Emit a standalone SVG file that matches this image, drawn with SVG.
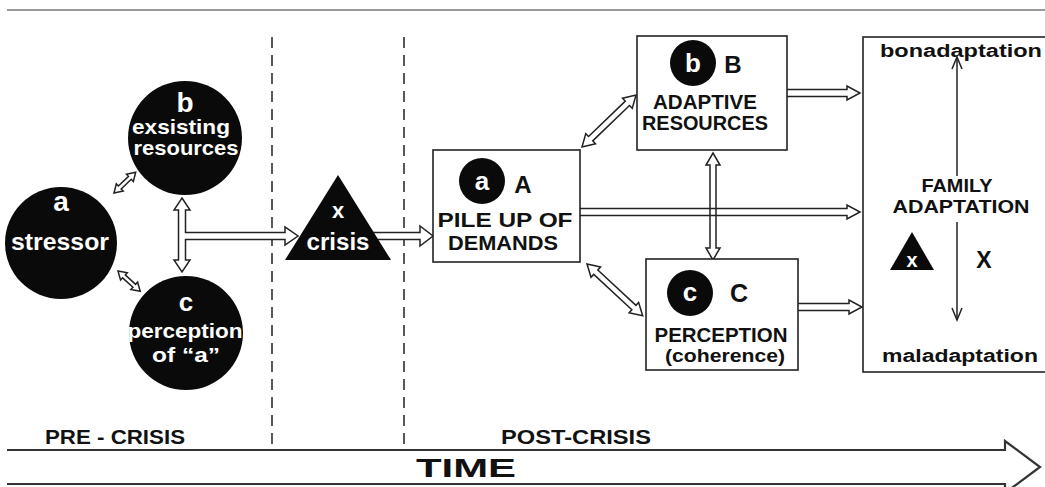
<svg xmlns="http://www.w3.org/2000/svg" width="1045" height="487" viewBox="0 0 1045 487">
<defs>
<style>
text{font-family:"Liberation Sans",Arial,sans-serif;font-weight:bold;text-anchor:middle}
.w{fill:#fff}
.k{fill:#111}
.box{fill:#fff;stroke:#222;stroke-width:1.6}
.blob{fill:#0a0a0a}
.arr{fill:#fff;stroke:#222;stroke-width:1.5;stroke-linejoin:miter}
.arrn{fill:none;stroke:#222;stroke-width:1.5}
.thin{fill:none;stroke:#222;stroke-width:1.5}
.dash{stroke:#222;stroke-width:1.5;stroke-dasharray:11 7;fill:none}
</style>
</defs>
<rect width="1045" height="487" fill="#fff"/>
<line x1="7" y1="10" x2="1045" y2="10" stroke="#999" stroke-width="2"/>
<g id="phases">
<line class="dash" x1="272" y1="37" x2="272" y2="450"/>
<line class="dash" x1="404" y1="37" x2="404" y2="450"/>
</g>
<g id="connectors">
<path class="arr" transform="translate(114,193) rotate(-43.7)" d="M0,0 L8,-5 L8,-2 L22,-2 L22,-5 L30,0 L22,5 L22,2 L8,2 L8,5 Z"/>
<path class="arr" transform="translate(118,271) rotate(42.3)" d="M0,0 L8,-5 L8,-2 L22,-2 L22,-5 L30,0 L22,5 L22,2 L8,2 L8,5 Z"/>
<path class="arr" d="M182,198 L190,210 L185.5,210 V232.5 H285 V227 L298,236 L285,245 V239.5 H185.5 V260 L190,260 L182,272 L174,260 L178.5,260 V210 L174,210 Z"/>
<path class="arr" d="M360,232.5 H420 V226 L433,236 L420,246 V239.5 H360"/>
<path class="arr" transform="translate(582,147) rotate(-43.9)" d="M0,0 L12,-7 L12,-3 L63,-3 L63,-7 L75,0 L63,7 L63,3 L12,3 L12,7 Z"/>
<path class="arr" transform="translate(587,264) rotate(42.9)" d="M0,0 L12,-7 L12,-3 L64,-3 L64,-7 L76,0 L64,7 L64,3 L12,3 L12,7 Z"/>
<path class="arr" d="M787,89.5 H847 V86 L860,93 L847,100 V96.5 H787"/>
<path class="arr" d="M580,208.5 H847 V205 L860,212 L847,219 V215.5 H580"/>
<path class="arr" d="M798,303.5 H849 V300 L862,307 L849,314 V310.5 H798"/>
<path class="arrn" d="M713,153 L720,165 L716,165 L716,248 L720,248 L713,260 L706,248 L710,248 L710,165 L706,165 Z"/>
</g>
<g id="node-a">
<circle class="blob" cx="61" cy="243" r="56"/>
<text class="w" x="61" y="211" font-size="28">a</text>
<text class="w" x="60" y="250" font-size="24" textLength="98" lengthAdjust="spacingAndGlyphs">stressor</text>
</g>
<g id="node-b">
<circle class="blob" cx="185" cy="138" r="57"/>
<text class="w" x="185" y="112" font-size="28">b</text>
<text class="w" x="181" y="134" font-size="21" textLength="98" lengthAdjust="spacingAndGlyphs">exsisting</text>
<text class="w" x="186" y="155" font-size="21" textLength="105" lengthAdjust="spacingAndGlyphs">resources</text>
</g>
<g id="node-c">
<circle class="blob" cx="186" cy="333" r="57"/>
<text class="w" x="186" y="311" font-size="26">c</text>
<text class="w" x="185" y="338" font-size="21" textLength="115" lengthAdjust="spacingAndGlyphs">perception</text>
<text class="w" x="186" y="362" font-size="21" textLength="68" lengthAdjust="spacingAndGlyphs">of “a”</text>
</g>
<g id="node-x">
<polygon class="blob" points="338,175 391,260 285,260"/>
<text class="w" x="338" y="218" font-size="22">x</text>
<text class="w" x="338" y="250" font-size="23" textLength="63" lengthAdjust="spacingAndGlyphs">crisis</text>
</g>
<g id="node-A">
<rect class="box" x="433" y="150" width="147" height="112"/>
<circle class="blob" cx="482" cy="181" r="23"/>
<text class="w" x="482" y="190" font-size="26">a</text>
<text class="k" x="523" y="193" font-size="24">A</text>
<text class="k" x="505" y="227" font-size="21" textLength="135" lengthAdjust="spacingAndGlyphs">PILE UP OF</text>
<text class="k" x="503" y="250" font-size="21" textLength="110" lengthAdjust="spacingAndGlyphs">DEMANDS</text>
</g>
<g id="node-B">
<rect class="box" x="637" y="36" width="150" height="114"/>
<circle class="blob" cx="693" cy="63" r="23"/>
<text class="w" x="693" y="72" font-size="26">b</text>
<text class="k" x="733" y="73" font-size="24">B</text>
<text class="k" x="705" y="109" font-size="20" textLength="104" lengthAdjust="spacingAndGlyphs">ADAPTIVE</text>
<text class="k" x="705" y="130" font-size="20" textLength="126" lengthAdjust="spacingAndGlyphs">RESOURCES</text>
</g>
<g id="node-C">
<rect class="box" x="646" y="259" width="152" height="111"/>
<circle class="blob" cx="690" cy="293" r="23"/>
<text class="w" x="690" y="301" font-size="26">c</text>
<text class="k" x="739" y="302" font-size="25" font-weight="normal">C</text>
<text class="k" x="721" y="342" font-size="21" textLength="133" lengthAdjust="spacingAndGlyphs">PERCEPTION</text>
<text class="k" x="725" y="362" font-size="18" font-weight="normal" textLength="120" lengthAdjust="spacingAndGlyphs">(coherence)</text>
</g>
<g id="node-family">
<rect class="box" x="863" y="37" width="200" height="335"/>
<text class="k" x="961" y="57" font-size="18" textLength="162" lengthAdjust="spacingAndGlyphs">bonadaptation</text>
<text class="k" x="960" y="362" font-size="18" textLength="156" lengthAdjust="spacingAndGlyphs">maladaptation</text>
<line class="thin" x1="957" y1="57" x2="957" y2="176"/>
<polyline class="thin" points="952,69 957,57 962,69"/>
<line class="thin" x1="957" y1="222" x2="957" y2="320"/>
<polyline class="thin" points="952,308 957,320 962,308"/>
<text class="k" x="957" y="192" font-size="18" textLength="71" lengthAdjust="spacingAndGlyphs">FAMILY</text>
<text class="k" x="961" y="213" font-size="18" textLength="137" lengthAdjust="spacingAndGlyphs">ADAPTATION</text>
<polygon class="blob" points="912,232 934,270 890,270"/>
<text class="w" x="912" y="267" font-size="20">x</text>
<text class="k" x="984" y="268" font-size="23">X</text>
</g>
<g id="timeline">
<path d="M7,450 H1005 V441 L1040,467 L1005,493 V484 H7" fill="#fff" stroke="#333" stroke-width="2.2"/>
<text class="k" x="466" y="477" font-size="26" textLength="100" lengthAdjust="spacingAndGlyphs">TIME</text>
<text class="k" x="115" y="444" font-size="20" font-weight="normal" textLength="140" lengthAdjust="spacingAndGlyphs">PRE - CRISIS</text>
<text class="k" x="576" y="444" font-size="20" font-weight="normal" textLength="150" lengthAdjust="spacingAndGlyphs">POST-CRISIS</text>
</g>
</svg>
